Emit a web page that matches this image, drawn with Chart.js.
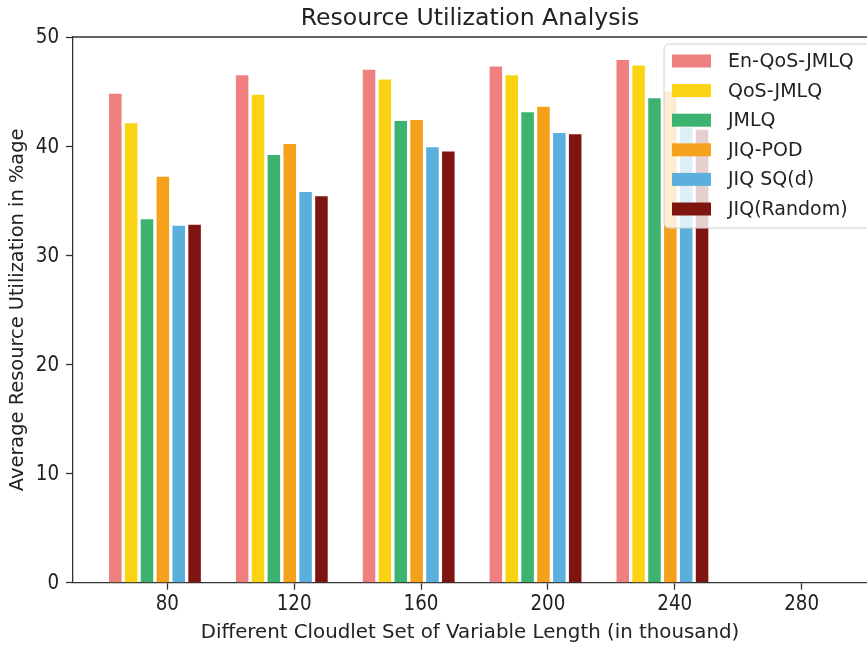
<!DOCTYPE html>
<html>
<head>
<meta charset="utf-8">
<script src="https://cdn.jsdelivr.net/npm/chart.js@4/dist/chart.umd.min.js"></script>
<style>
  html, body { margin: 0; padding: 0; background: #fff; overflow: hidden; }
  #wrap { width: 867px; height: 645px; }
</style>
</head>
<body>
<div id="wrap"><canvas id="chart" width="867" height="645"></canvas></div>
<script>
// Cloudlet set sizes (thousands) and tick values
const cloudletSets = [80, 120, 160, 200, 240];
const xTickValues = [80, 120, 160, 200, 240, 280];
const yTickValues = [0, 10, 20, 30, 40, 50];

// Average resource utilization (%) per scheduling method
const enQosJmlq = [44.8, 46.5, 47.0, 47.3, 47.9];
const qosJmlq   = [42.1, 44.7, 46.1, 46.5, 47.4];
const jmlq      = [33.3, 39.2, 42.3, 43.1, 44.4];
const jiqPod    = [37.2, 40.2, 42.4, 43.6, 45.0];
const jiqSqd    = [32.7, 35.8, 39.9, 41.2, 41.7];
const jiqRandom = [32.8, 35.4, 39.5, 41.1, 41.5];

const seriesNames  = ['En-QoS-JMLQ', 'QoS-JMLQ', 'JMLQ', 'JIQ-POD', 'JIQ SQ(d)', 'JIQ(Random)'];
const seriesValues = [enQosJmlq, qosJmlq, jmlq, jiqPod, jiqSqd, jiqRandom];
const seriesColors = ['#f08080', '#fad312', '#3cb371', '#f5a11c', '#5aafdc', '#7e1510'];

// x range of the axes and the left shift of each bar group
const X_MIN = 50.27, X_MAX = 300.6, GROUP_SHIFT = 3.9;
const FONT = 'DejaVu Sans';
const INK = '#222';
const LINE = '#333';

const datasets = seriesNames.map((name, i) => ({
  label: name,
  data: cloudletSets.map((c, j) => ({ x: c, y: seriesValues[i][j] })),
  backgroundColor: seriesColors[i],
  borderWidth: 0,
  xAxisID: 'xBars',
  categoryPercentage: 0.75,
  barPercentage: 0.79
}));

const fixedTicks = vals => scale => { scale.ticks = vals.map(v => ({ value: v })); };

// draw text squeezed horizontally by sx
function squeezedText(ctx, text, x, y, size, sx, align) {
  ctx.save();
  ctx.font = `${size}px "${FONT}"`;
  ctx.fillStyle = INK;
  ctx.textBaseline = 'middle';
  ctx.textAlign = align;
  ctx.translate(x, y);
  ctx.scale(sx, 1);
  ctx.fillText(text, 0, 0);
  ctx.restore();
}

// tick labels and the frame line along the top of the plot area
const axisDecor = {
  id: 'axisDecor',
  afterDraw(chart) {
    const { ctx, chartArea: a, scales } = chart;
    ctx.save();
    ctx.strokeStyle = LINE;
    ctx.lineWidth = 1.3;
    ctx.beginPath();
    ctx.moveTo(a.left, a.top);
    ctx.lineTo(a.right + 2, a.top);
    ctx.stroke();
    ctx.restore();
    xTickValues.forEach(v => {
      squeezedText(ctx, String(v), scales.x.getPixelForValue(v), a.bottom + 22, 21, 0.87, 'center');
    });
    yTickValues.forEach(v => {
      squeezedText(ctx, String(v), a.left - 14, scales.y.getPixelForValue(v) + 1, 21, 0.87, 'right');
    });
  }
};

// semi-transparent legend box drawn over the bars
const overlayLegend = {
  id: 'overlayLegend',
  afterDatasetsDraw(chart) {
    const { ctx } = chart;
    const bx = 664, by = 44, bw = 230, bh = 184, r = 5;
    ctx.save();
    ctx.beginPath();
    ctx.roundRect(bx, by, bw, bh, r);
    ctx.fillStyle = 'rgba(255,255,255,0.8)';
    ctx.fill();
    ctx.strokeStyle = '#d0d0d0';
    ctx.lineWidth = 1;
    ctx.stroke();
    ctx.font = `19px "${FONT}"`;
    ctx.textBaseline = 'middle';
    ctx.textAlign = 'left';
    chart.data.datasets.forEach((ds, i) => {
      const cy = 61 + i * 29.6;
      ctx.fillStyle = ds.backgroundColor;
      ctx.fillRect(672, cy - 6.5, 39, 13);
      ctx.fillStyle = INK;
      ctx.fillText(ds.label, 728, cy + 1);
    });
    ctx.restore();
  }
};

new Chart(document.getElementById('chart'), {
  type: 'bar',
  data: { datasets },
  plugins: [axisDecor, overlayLegend],
  options: {
    responsive: false,
    animation: false,
    layout: { padding: { left: 0, right: 0, top: 0, bottom: 0 } },
    plugins: {
      legend: { display: false },
      tooltip: { enabled: false },
      title: {
        display: true,
        fullSize: false,
        text: 'Resource Utilization Analysis',
        color: INK,
        font: { family: FONT, size: 23.6, weight: 'normal', lineHeight: 1.2 },
        padding: { top: 5, bottom: 3.7 }
      }
    },
    scales: {
      x: {
        type: 'linear',
        position: 'bottom',
        offset: false,
        min: X_MIN,
        max: X_MAX,
        afterBuildTicks: fixedTicks(xTickValues),
        afterFit: s => { s.height = 62.3; },
        grid: { offset: false, drawOnChartArea: false, drawTicks: true, tickLength: 7, tickColor: LINE, tickWidth: 1.3 },
        border: { display: true, color: LINE, width: 1.3 },
        ticks: { display: false },
        title: {
          display: true,
          text: 'Different Cloudlet Set of Variable Length (in thousand)',
          color: INK,
          font: { family: FONT, size: 19.8, lineHeight: 1.2 },
          padding: { top: 1.5, bottom: 0 }
        }
      },
      xBars: {
        type: 'linear',
        display: false,
        offset: false,
        grid: { offset: false },
        min: X_MIN + GROUP_SHIFT,
        max: X_MAX + GROUP_SHIFT,
        afterBuildTicks: fixedTicks(xTickValues.map(v => v + GROUP_SHIFT))
      },
      y: {
        type: 'linear',
        min: 0,
        max: 50,
        afterBuildTicks: fixedTicks(yTickValues),
        afterFit: s => { s.width = 73; },
        grid: { drawOnChartArea: false, drawTicks: true, tickLength: 7, tickColor: LINE, tickWidth: 1.3 },
        border: { display: true, color: LINE, width: 1.3 },
        ticks: { display: false },
        title: {
          display: true,
          text: 'Average Resource Utilization in %age',
          color: INK,
          font: { family: FONT, size: 19.4, lineHeight: 1.2 },
          padding: { top: 6, bottom: 0 }
        }
      }
    }
  }
});
</script>
</body>
</html>
